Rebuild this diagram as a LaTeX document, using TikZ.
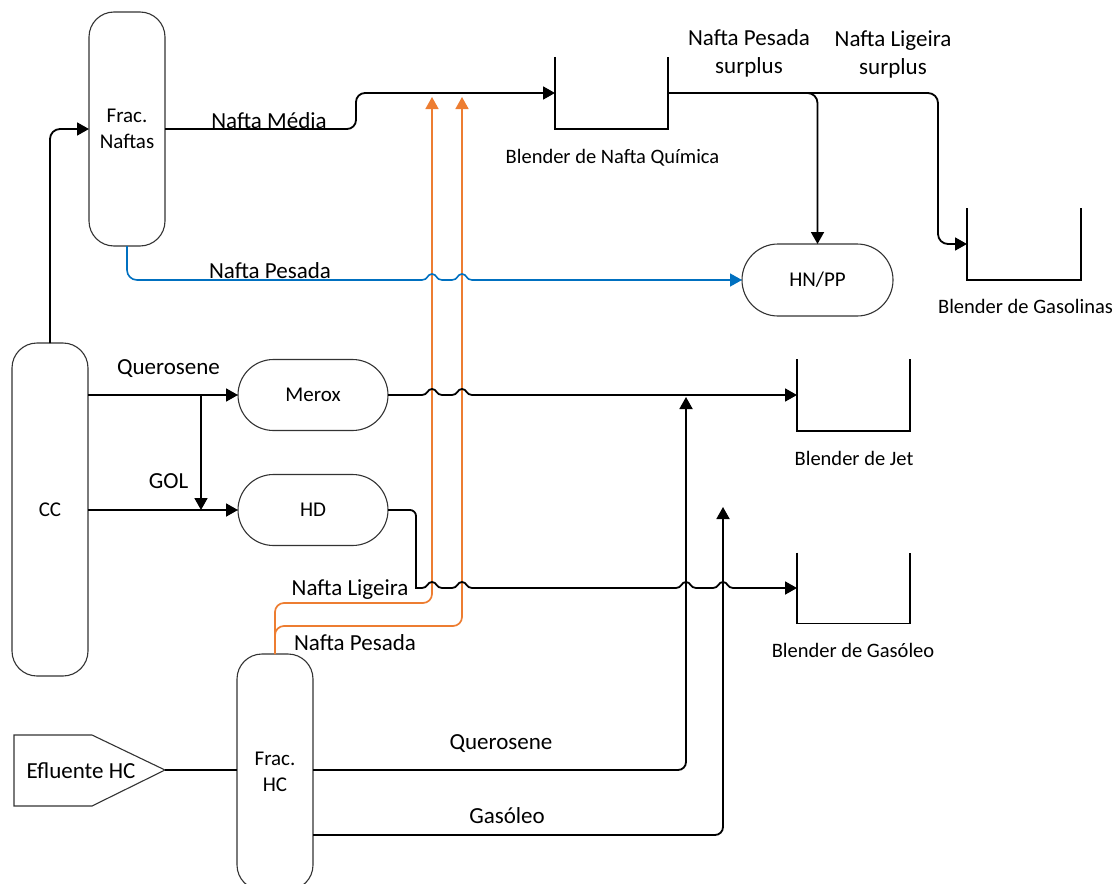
\documentclass[tikz,border=0pt]{standalone}
\usepackage{fontspec}
\setmainfont{Carlito}
\usetikzlibrary{arrows.meta,shapes.misc,calc}
\definecolor{pipeorange}{HTML}{ED7D31}
\definecolor{pipeblue}{HTML}{0070C0}
\begin{document}
\begin{tikzpicture}[x=1pt,y=-1pt,
  every node/.style={inner sep=0pt, outer sep=0pt},
  procunit/.style={draw=black!80, line width=1.1pt, align=center,
    font=\fontsize{21}{26}\selectfont},
  tower/.style={procunit, rounded corners=25pt, minimum width=76pt},
  drum/.style={procunit, rounded rectangle, minimum width=150pt, minimum height=71pt},
  tankbox/.style={minimum width=113pt, minimum height=72pt},
  tanklabel/.style={font=\fontsize{20.5}{26}\selectfont, anchor=base},
  flowlabel/.style={font=\fontsize{23}{28}\selectfont, anchor=base},
  pipe/.style={line width=1.8pt, black},
  flow/.style={pipe, -{Triangle[length=12pt,width=13pt]}},
  orangeflow/.style={line width=1.7pt, pipeorange, -{Triangle[length=12pt,width=13pt]}},
  blueflow/.style={line width=1.6pt, pipeblue, -{Triangle[length=12pt,width=13pt]}},
  hopover/.style 2 args={insert path={-- (#1-10,#2)
      .. controls (#1-4,#2) and (#1-5,#2-6) .. (#1,#2-6)
      .. controls (#1+5,#2-6) and (#1+4,#2) .. (#1+10,#2)}}
]
\useasboundingbox (0,0) rectangle (1115,883);
\clip (0,0) rectangle (1115,883);

% process units
\node[tower, minimum height=234pt] (fn) at (127,129) {Frac.\\Naftas};
\node[tower, minimum height=333pt] (cc) at (50,509.5) {CC};
\node[tower, minimum height=236pt] (frachc) at (275,772) {Frac.\\HC};
\node[drum] (merox) at (313,395) {Merox};
\node[drum] (hd) at (313,510) {HD};
\node[drum, minimum width=151pt, minimum height=72pt] (hn) at (817.5,280) {HN/PP};

% feed
\draw[line width=1.1pt, draw=black!80] (14,735) -- (92,735) -- (165,770) -- (92,806) -- (14,806) -- cycle;
\node[font=\fontsize{23}{28}\selectfont] (efl) at (81,770.5) {Efluente HC};
\coordinate (efltip) at (165,770);

% blenders (open tanks)
\node[tankbox] (nq) at (611.5,93) {};
\node[tankbox, minimum width=114pt] (ngas) at (1024,244) {};
\node[tankbox] (jet) at (853.5,395) {};
\node[tankbox, minimum height=71pt] (dsl) at (853.5,588) {};
\foreach \t in {nq,ngas,jet,dsl}
  \draw[pipe] (\t.north west) |- (\t.south east) -- (\t.north east);

\node[tanklabel] (lnq) at (612.5,163) {Blender de Nafta Química};
\node[tanklabel] (lgas) at (1025.5,313) {Blender de Gasolinas};
\node[tanklabel] (ljet) at (854,465) {Blender de Jet};
\node[tanklabel] (ldsl) at (853,657) {Blender de Gasóleo};

% free ends of the streams
\coordinate (ligtip) at (432,97);
\coordinate (pestip) at (462,97);
\coordinate (split) at (201,395);
\coordinate (kertip) at (686,397);
\coordinate (gastip) at (723,507);

% naphtha from the hydrocracker fractionator
\draw[orangeflow, rounded corners=9pt] (frachc.north) |- (ligtip |- 0,603) -- (ligtip);
\draw[orangeflow, rounded corners=9pt] (frachc.north) |- (pestip |- 0,626) -- (pestip);

% crude column to naphtha fractionator
\draw[flow, rounded corners=10pt] (cc.north) |- (fn.west);
% medium naphtha
\draw[flow, rounded corners=9pt] (fn.east) -- (356,129) -- (356,93) -- (nq.west);
% surplus streams
\draw[flow, rounded corners=10pt] (nq.east) -| (hn.north);
\draw[flow, rounded corners=10pt] (nq.east) -- (938,93) -- (938,244) -- (ngas.west);
% heavy naphtha
\draw[blueflow, rounded corners=10pt] (fn.south) -- (127,280) -- (400,280)
  [sharp corners] [hopover={432}{280}] [hopover={462}{280}] -- (hn.west);

% kerosene and gas oil from CC
\draw[flow] (cc.east |- merox.west) -- (merox.west);
\draw[flow] (split) -- (split |- hd.west);
\draw[flow] (cc.east |- hd.west) -- (hd.west);

% products to blenders
\draw[flow] (merox.east) [hopover={432}{395}] [hopover={462}{395}] -- (jet.west);
\draw[flow, rounded corners=6pt] (hd.east) -- (416,510) -- (416,582)
  [sharp corners] .. controls (416,588) .. (422,588)
  [hopover={432}{588}] [hopover={462}{588}]
  [hopover={686}{588}] [hopover={723}{588}] -- (dsl.west);

% hydrocracker products
\draw[pipe] (efltip) -- (frachc.west |- efltip);
\draw[flow, rounded corners=8pt] (frachc.east |- 0,770) -| (kertip);
\draw[flow, rounded corners=8pt] (frachc.east |- 0,835) -| (gastip);

% stream labels
\node[flowlabel] (lmedia) at (269,128) {Nafta Média};
\node[flowlabel] (lpesb) at (270,278) {Nafta Pesada};
\node[flowlabel] (lquer) at (168.5,374) {Querosene};
\node[flowlabel] (lgol) at (168.5,488) {GOL};
\node[flowlabel] (llig) at (350,595) {Nafta Ligeira};
\node[flowlabel] (lpeso) at (355,650) {Nafta Pesada};
\node[flowlabel] (lquerhc) at (501,749) {Querosene};
\node[flowlabel] (lgasohc) at (507,823) {Gasóleo};
\node[font=\fontsize{23}{28}\selectfont, align=center] (lsurpp) at (749,53.5) {Nafta Pesada\\surplus};
\node[font=\fontsize{23}{28}\selectfont, align=center] (lsurpl) at (893,54) {Nafta Ligeira\\surplus};
\end{tikzpicture}
\end{document}
